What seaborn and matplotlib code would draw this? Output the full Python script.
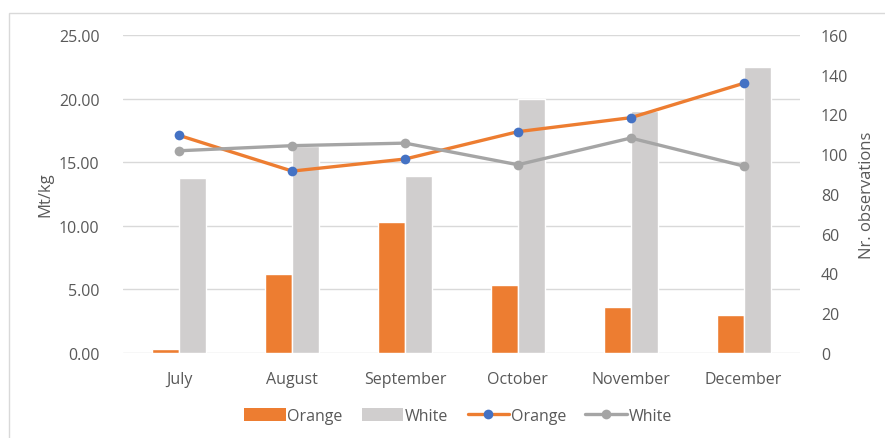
import matplotlib
matplotlib.use("Agg")
import matplotlib.pyplot as plt
from matplotlib.patches import Patch, Rectangle
from matplotlib.lines import Line2D
import seaborn as sns
import pandas as pd

months = ["July", "August", "September", "October", "November", "December"]
varieties = ["Orange", "White"]

# price per kg (left axis, lines)
orange_price = [17.1, 14.3, 15.25, 17.4, 18.5, 21.2]
white_price = [15.9, 16.3, 16.5, 14.8, 16.9, 14.7]

# number of observations (right axis, bars)
orange_obs = [2, 40, 66, 34, 23, 19]
white_obs = [88, 104, 89, 128, 122, 144]

ORANGE = "#ED7D31"
LIGHT = "#D0CECE"
GREY_LINE = "#A5A5A5"
BLUE = "#4472C4"
TEXT = "#595959"
GRID = "#D9D9D9"

prices = pd.DataFrame({
    "month": months * 2,
    "variety": ["Orange"] * 6 + ["White"] * 6,
    "price": orange_price + white_price,
})
obs = pd.DataFrame({
    "month": months * 2,
    "variety": ["Orange"] * 6 + ["White"] * 6,
    "count": orange_obs + white_obs,
})

sns.set_style("white")
plt.rcParams["font.family"] = ["Open Sans", "DejaVu Sans"]
FS = 11.5

fig = plt.figure(figsize=(8.85, 4.39), dpi=100)
ax1 = fig.add_axes([123 / 885, 1 - 354 / 439, 677 / 885, 318 / 439])
ax2 = ax1.twinx()

# bars on the observations axis (drawn underneath)
sns.barplot(data=obs, x="month", y="count", hue="variety", hue_order=varieties,
            palette={"Orange": ORANGE, "White": LIGHT}, width=0.48, gap=0,
            legend=False, ax=ax2, saturation=1)

# lines on the price axis
sns.pointplot(data=prices, x="month", y="price", hue="variety", hue_order=varieties,
              palette={"Orange": ORANGE, "White": GREY_LINE}, dodge=False,
              markers="o", legend=False, ax=ax1, linewidth=2.4, markersize=7,
              markeredgewidth=0)
for ln in ax1.lines:
    if matplotlib.colors.to_hex(ln.get_color()).upper() == ORANGE:
        ln.set_markerfacecolor(BLUE)
        ln.set_markeredgecolor(BLUE)

ax1.set_zorder(ax2.get_zorder() + 1)
ax1.patch.set_visible(False)

ax1.set_ylim(0, 25)
ax1.set_yticks(range(0, 26, 5))
ax1.set_yticklabels([f"{v:.2f}" for v in range(0, 26, 5)])
ax2.set_ylim(0, 160)
ax2.set_yticks(range(0, 161, 20))
ax1.set_xlim(-0.5, 5.5)

# gridlines at the price ticks, behind the bars
for v in range(0, 26, 5):
    ax2.axhline(v * 160 / 25, color=GRID, lw=1, zorder=0)

for a in (ax1, ax2):
    for s in a.spines.values():
        s.set_visible(False)
    a.tick_params(length=0, colors=TEXT, labelsize=FS)
    a.set_xlabel("")
ax1.tick_params(axis="y", pad=17)
ax2.tick_params(axis="y", pad=15)
ax1.tick_params(axis="x", pad=13)

ax1.set_ylabel("Mt/kg", color=TEXT, fontsize=FS + 0.5, labelpad=4)
ax2.set_ylabel("Nr. observations", color=TEXT, fontsize=FS + 0.5, labelpad=8)

handles = [
    Patch(facecolor=ORANGE, edgecolor="none", label="Orange"),
    Patch(facecolor=LIGHT, edgecolor="none", label="White"),
    Line2D([], [], color=ORANGE, lw=2.4, marker="o", markersize=7,
           markerfacecolor=BLUE, markeredgewidth=0, label="Orange"),
    Line2D([], [], color=GREY_LINE, lw=2.4, marker="o", markersize=7,
           markerfacecolor=GREY_LINE, markeredgewidth=0, label="White"),
]
leg = fig.legend(handles=handles, loc="center", bbox_to_anchor=(458 / 885, 1 - 417 / 439),
                 ncol=4, frameon=False, handlelength=2.6, handletextpad=0.1,
                 columnspacing=1.2, fontsize=FS, handleheight=0.8)
for t in leg.get_texts():
    t.set_color(TEXT)

# chart-area border
fig.patches.append(Rectangle((9 / 885, -0.05), 1.0, 1 - 14 / 439 + 0.05,
                             transform=fig.transFigure, fill=False,
                             edgecolor=GRID, lw=1))

fig.savefig("out.png", dpi=100)
